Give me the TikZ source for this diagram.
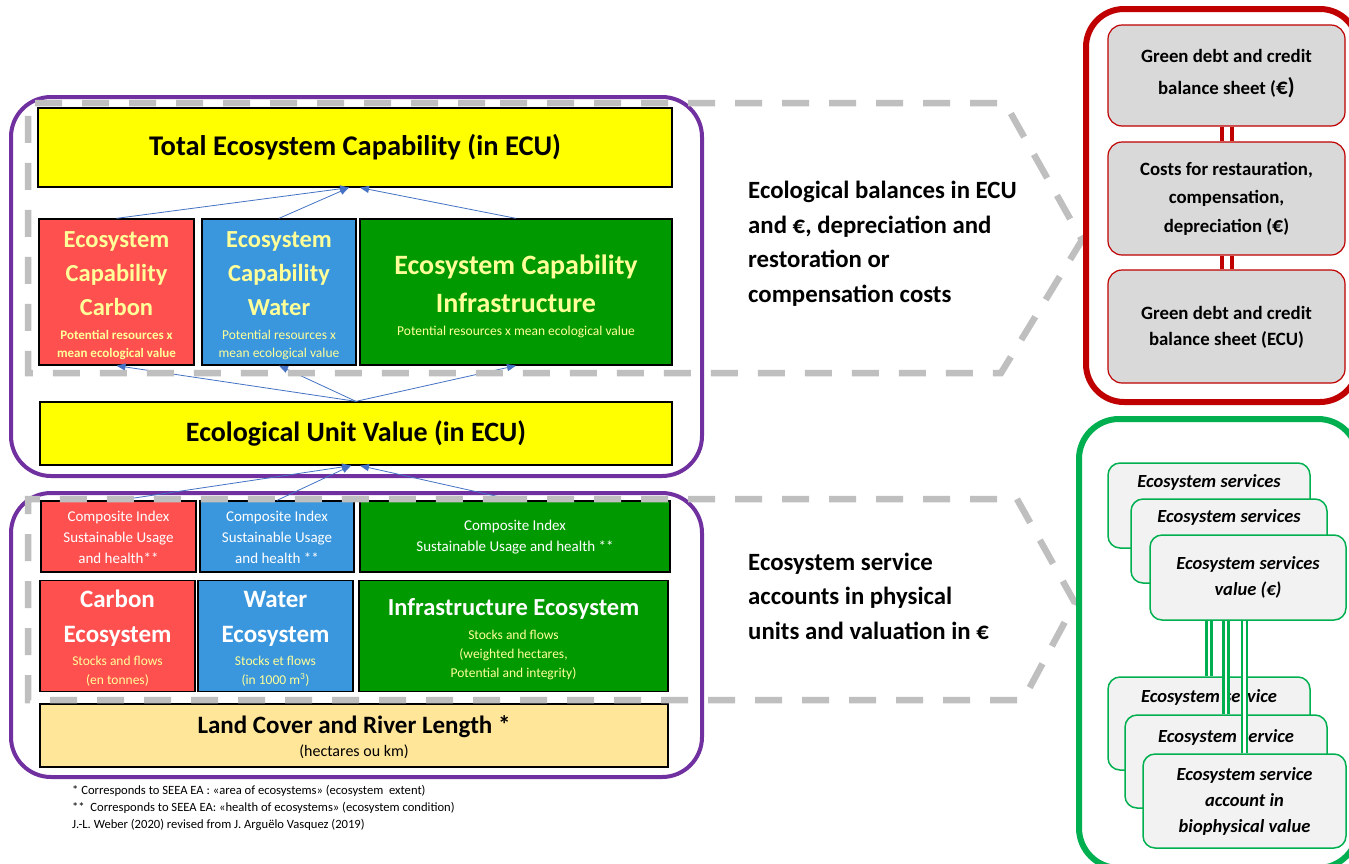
\documentclass[tikz,border=0pt]{standalone}
\usepackage{fontspec}
\setmainfont{Carlito}
\usetikzlibrary{arrows.meta}
\definecolor{purp}{HTML}{7030A0}
\definecolor{dred}{HTML}{C00000}
\definecolor{gbord}{HTML}{00B050}
\definecolor{dgray}{HTML}{BFBFBF}
\definecolor{cred}{HTML}{FF5050}
\definecolor{cblue}{HTML}{3A96DD}
\definecolor{cgreen}{HTML}{009900}
\definecolor{cyel}{HTML}{FFFF00}
\definecolor{lcov}{HTML}{FFE699}
\definecolor{pyel}{HTML}{FFFF99}
\definecolor{arrb}{HTML}{4472C4}
\definecolor{rbox}{HTML}{D9D9D9}
\definecolor{gbox}{HTML}{F2F2F2}
\newcommand\fs[2]{\fontsize{#1}{#2}\selectfont}
\begin{document}
\begin{tikzpicture}[x=1pt,y=-1pt,
  bx/.style={draw=black, line width=1.3pt, inner sep=0pt, align=center},
  tx/.style={inner sep=0pt, align=center},
  arr/.style={draw=arrb, line width=0.8pt, -{Triangle[length=9pt,width=7pt]}},
  gdash/.style={draw=dgray, line width=6.5pt, dash pattern=on 27pt off 20pt},
  frame/.style={draw=purp, line width=4pt, rounded corners=40pt},
  rsheet/.style={draw=dred, line width=1.2pt, fill=rbox, rounded corners=14pt, inner sep=0pt, minimum width=237pt},
  svc/.style={draw=gbord, line width=1.5pt, fill=gbox, rounded corners=12pt, inner sep=0pt, align=center, font=\fs{18.5}{26}\bfseries\itshape},
  svct/.style={inner sep=0pt, align=center, font=\fs{18.5}{26}\bfseries\itshape},
  rdouble/.style={draw=dred, line width=4pt, double=white, double distance=6pt},
  gdouble/.style={draw=gbord, line width=2.3pt, double=white, double distance=2.5pt},
  captitle/.style={tx, text=pyel, font=\fs{24.5}{34}\bfseries},
  ectitle/.style={tx, text=white, font=\fs{25}{35}\bfseries},
  subt/.style={tx, text=pyel, font=\fs{13.5}{19}},
  comp/.style={tx, text=white, font=\fs{15}{21}},
  midtext/.style={inner sep=0pt, align=left, anchor=west, font=\fs{24.8}{34.5}\bfseries},
  foot/.style={inner sep=0pt, anchor=west, font=\fs{12.6}{17}},
]
\useasboundingbox (0,0) rectangle (1349,863);
\begin{scope}
\clip (0,0) rectangle (1349,863);
\fill[white] (0,0) rectangle (1349,863);

% purple frames
\draw[frame] (11,97) rectangle (702,476);
\draw[frame] (11,493) rectangle (702,777);

% top block
\node[bx, fill=cyel, minimum width=634pt, minimum height=79pt, font=\fs{28.5}{33}\bfseries] (tot) at (355,147.5) {Total Ecosystem Capability (in ECU)};

\node[bx, fill=cred, minimum width=155pt, minimum height=146pt] (capR) at (116.5,292) {};
\node[bx, fill=cblue, minimum width=154pt, minimum height=146pt] (capB) at (279,292) {};
\node[bx, fill=cgreen, minimum width=312pt, minimum height=146pt] (capG) at (516,292) {};

\node[captitle] (capRt) at (116.5,274) {Ecosystem\\Capability\\Carbon};
\node[tx, text=pyel, font=\fs{13}{18}\bfseries] (capRs) at (116.5,345) {Potential resources x\\mean ecological value};
\node[captitle] (capBt) at (279,274) {Ecosystem\\Capability\\Water};
\node[tx, text=pyel, font=\fs{13.5}{18}] (capBs) at (279,345) {Potential resources x\\mean ecological value};
\node[tx, text=pyel, font=\fs{28}{38}\bfseries] (capGt) at (516,284) {Ecosystem Capability\\Infrastructure};
\node[tx, text=pyel, font=\fs{13.5}{18}] (capGs) at (516,332) {Potential resources x mean ecological value};

\node[bx, fill=cyel, minimum width=632pt, minimum height=63pt, font=\fs{28}{33}\bfseries] (euv) at (356,433.5) {Ecological Unit Value (in ECU)};

% bottom block
\node[bx, fill=cred, minimum width=155pt, minimum height=71pt] (compR) at (118.5,536.5) {};
\node[bx, fill=cblue, minimum width=154pt, minimum height=71pt] (compB) at (277,536.5) {};
\node[bx, fill=cgreen, minimum width=310pt, minimum height=71pt] (compG) at (515,536.5) {};
\node[comp] (compRt) at (118.5,537) {Composite Index\\Sustainable Usage\\and health**};
\node[comp] (compBt) at (277,537) {Composite Index\\Sustainable Usage\\and health **};
\node[comp] (compGt) at (515,537) {Composite Index\\Sustainable Usage and health **};

\node[bx, fill=cred, minimum width=155pt, minimum height=111pt] (ecR) at (117.5,636) {};
\node[bx, fill=cblue, minimum width=155pt, minimum height=111pt] (ecB) at (275.5,636) {};
\node[bx, fill=cgreen, minimum width=309pt, minimum height=111pt] (ecG) at (513.5,636) {};
\node[ectitle] (ecRt) at (117.5,618.5) {Carbon\\Ecosystem};
\node[subt] (ecRs) at (117.5,671.5) {Stocks and flows\\(en tonnes)};
\node[ectitle] (ecBt) at (275.5,618.5) {Water\\Ecosystem};
\node[subt] (ecBs) at (275.5,671.5) {Stocks et flows\\(in 1000 m\textsuperscript{3})};
\node[tx, text=white, font=\fs{24.5}{30}\bfseries] (ecGt) at (513.5,609) {Infrastructure Ecosystem};
\node[subt] (ecGs) at (513.5,655) {Stocks and flows\\(weighted hectares,\\Potential and integrity)};

\node[bx, fill=lcov, minimum width=628pt, minimum height=63pt] (land) at (354,735.5) {};
\node[tx, font=\fs{25}{30}\bfseries] (landt) at (354,727) {Land Cover and River Length *};
\node[tx, font=\fs{16}{20}] (lands) at (354,752) {(hectares ou km)};

% arrows
\draw[arr] (capR.north) -- ([xshift=-6pt]tot.south);
\draw[arr] (capB.north) -- ([xshift=-6pt]tot.south);
\draw[arr] (capG.north) -- ([xshift=5pt]tot.south);
\draw[arr] (euv.north) -- (capR.south);
\draw[arr] (euv.north) -- (capB.south);
\draw[arr] (euv.north) -- (capG.south);
\draw[arr] (compR.north) -- ([xshift=-5pt]euv.south);
\draw[arr] (compB.north) -- ([xshift=-5pt]euv.south);
\draw[arr] (compG.north) -- ([xshift=4pt]euv.south);

% dashed outlines
\draw[gdash] (500,103) -- (1005,103) -- (1082,240) -- (1001,373) -- (28,373) -- (28,103) -- (500,103);
\draw[gdash] (500,499) -- (1017,499) -- (1075,603) -- (1023,700) -- (28,700) -- (28,499) -- (500,499);

% middle texts
\node[midtext] (balt) at (748,243.5) {Ecological balances in ECU\\and €, depreciation and\\restoration or\\compensation costs};
\node[midtext] (esat) at (748,596) {Ecosystem service\\accounts in physical\\units and valuation in €};

% footnotes
\node[foot] (f1) at (72,791) {* Corresponds to SEEA EA : «area of ecosystems» (ecosystem\ \ extent)};
\node[foot] (f2) at (72,808) {**\ \ Corresponds to SEEA EA: «health of ecosystems» (ecosystem condition)};
\node[foot] (f3) at (72,825) {J.-L. Weber (2020) revised from J. Arguëlo Vasquez (2019)};

% right red block
\draw[draw=dred, line width=6pt, rounded corners=38pt] (1086,9) rectangle (1358,402);
\node[rsheet, minimum height=101pt] (gb1) at (1226.5,75.5) {};
\node[rsheet, minimum height=113pt] (gb2) at (1226.5,198.5) {};
\node[rsheet, minimum height=113pt] (gb3) at (1226.5,326.5) {};
\draw[rdouble] (gb1.south) -- (gb2.north);
\draw[rdouble] (gb2.south) -- (gb3.north);
\node[tx, font=\fs{18.8}{32}\bfseries] (gb1t) at (1226.5,74) {Green debt and credit\\balance sheet ({\fs{23}{32}€)}};
\node[tx, font=\fs{18.8}{28.5}\bfseries] (gb2t) at (1226.5,198.5) {Costs for restauration,\\compensation,\\depreciation ({\fs{22}{28}€})};
\node[tx, font=\fs{18.8}{26}\bfseries] (gb3t) at (1226.5,327) {Green debt and credit\\balance sheet (ECU)};

% right green block
\draw[draw=gbord, line width=6pt, rounded corners=40pt] (1079,419) rectangle (1358,868);
\node[svc, minimum width=202pt, minimum height=85pt] (sa) at (1209,505.5) {};
\node[svct] (sat) at (1209,482) {Ecosystem services};
\node[svc, minimum width=196pt, minimum height=84pt] (sb) at (1229,541) {};
\node[svct] (sbt) at (1229,517) {Ecosystem services};
\node[svc, minimum width=196pt, minimum height=85pt] (sc) at (1248,577.5) {Ecosystem services\\value (€)};
\node[svc, minimum width=202pt, minimum height=93pt] (sd) at (1209,723.5) {};
\node[svct] (sdt) at (1209,697) {Ecosystem service};
\node[svc, minimum width=202pt, minimum height=93pt] (se) at (1226,761.5) {};
\node[svct] (set) at (1226,737) {Ecosystem service};
\node[svc, minimum width=203pt, minimum height=94pt] (sf) at (1244.5,801) {Ecosystem service\\account in\\biophysical value};
\draw[gdouble] (sd.north |- sc.south) -- (sd.north);
\draw[gdouble] (se.north |- sc.south) -- (se.north);
\draw[gdouble] (sf.north |- sc.south) -- (sf.north);
\end{scope}
\end{tikzpicture}
\end{document}
